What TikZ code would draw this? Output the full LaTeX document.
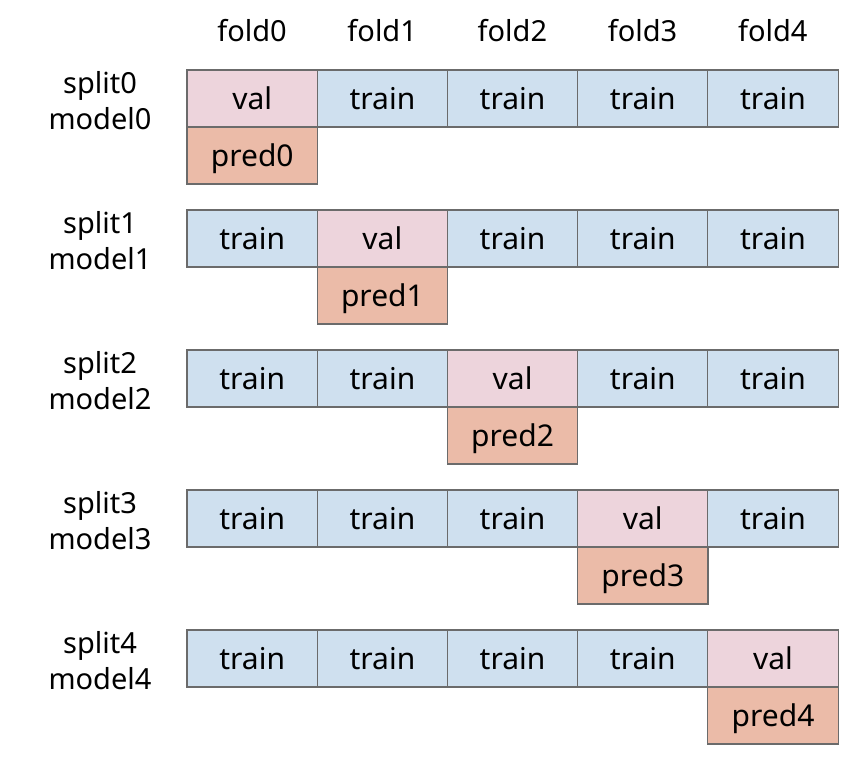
\documentclass[tikz,border=0pt]{standalone}
\usepackage{fontspec}
\setmainfont{Noto Sans}
\usepackage{tikz}
\usetikzlibrary{positioning}
\definecolor{valx}{HTML}{EDD4DC}
\definecolor{trainx}{HTML}{CFE0EF}
\definecolor{predx}{HTML}{EBBBA8}
\definecolor{edgex}{HTML}{6B6B6B}
\tikzset{
  cell/.style={draw=edgex,line width=1.3pt,minimum width=130.4pt,minimum height=57pt,inner sep=0pt,outer sep=0pt,
    anchor=north west,text height=26pt,text depth=4pt,font=\fontsize{30}{34}\selectfont},
  train/.style={cell,fill=trainx},
  val/.style={cell,fill=valx},
  pred/.style={cell,fill=predx},
  lab/.style={align=center,inner sep=0pt,font=\fontsize{29}{36}\selectfont}
}

\begin{document}
\begin{tikzpicture}[x=1pt,y=-1pt]
\useasboundingbox (0,0) rectangle (860,767);
% fold headers
\foreach \c in {0,...,4}
  \node[lab] (fold\c) at ({252+130.2*\c},31) {fold\c};
% one row per split
\foreach \r in {0,...,4}{
  \node[lab] (split\r) at (100,{101+140*\r}) {split\r\\model\r};
  \foreach \c in {0,...,4}{
    \ifnum\c=\r
      \node[val] (cell\r\c) at ({187+130.2*\c},{70+140*\r}) {val};
    \else
      \node[train] (cell\r\c) at ({187+130.2*\c},{70+140*\r}) {train};
    \fi
  }
  \node[pred,anchor=north] (pred\r) at (cell\r\r.south) {pred\r};
}
\end{tikzpicture}
\end{document}
